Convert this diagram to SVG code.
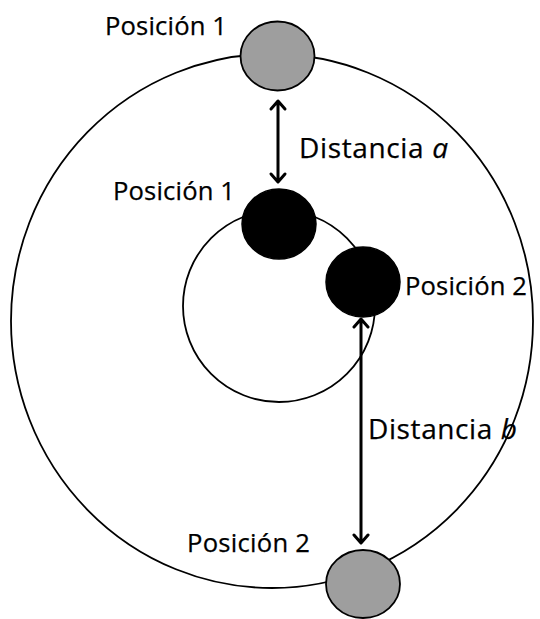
<svg xmlns="http://www.w3.org/2000/svg" width="540" height="619" viewBox="0 0 540 619">
<style>
.orbit{fill:none;stroke:#000;stroke-width:1.8}
.gray{fill:#9e9e9e;stroke:#000;stroke-width:1.8}
.black{fill:#000;stroke:#000;stroke-width:1.5}
.lbl{font-family:"Open Sans","Liberation Sans",sans-serif;font-size:25.6px;fill:#000;stroke:#000;stroke-width:0.25}
.dist{font-size:28px}
.conn{stroke:#000;stroke-width:3;fill:none;stroke-linecap:round;stroke-linejoin:round}
</style>
<rect width="540" height="619" fill="#fff"/>
<g id="outer-orbit"><ellipse class="orbit" cx="272" cy="321" rx="261" ry="267"/></g>
<g id="inner-orbit"><circle class="orbit" cx="279" cy="306" r="96"/></g>
<g id="outer-pos1"><ellipse class="gray" cx="277.5" cy="56" rx="37" ry="34.5"/><text class="lbl" x="105" y="35" textLength="122">Posición 1</text></g>
<g id="outer-pos2"><ellipse class="gray" cx="363" cy="584" rx="37" ry="34"/><text class="lbl" x="187" y="552" textLength="123">Posición 2</text></g>
<g id="inner-pos1"><ellipse class="black" cx="279" cy="224" rx="37" ry="35"/><text class="lbl" x="113" y="200" textLength="122">Posición 1</text></g>
<g id="inner-pos2"><ellipse class="black" cx="363" cy="282" rx="37" ry="35"/><text class="lbl" x="405" y="295" textLength="122">Posición 2</text></g>
<g id="connectors">
<path class="conn" d="M278 102 V181 M271 109 L278 101 L285 109 M271 174 L278 182 L285 174"/>
<path class="conn" d="M361 320 V542 M354 327 L361 319 L368 327 M354 535 L361 543 L368 535"/>
</g>
<g id="labels">
<text class="lbl dist" x="299" y="158" textLength="149">Distancia <tspan font-style="italic">a</tspan></text>
<text class="lbl dist" x="368" y="439" textLength="149">Distancia <tspan font-style="italic">b</tspan></text>
</g>
</svg>
